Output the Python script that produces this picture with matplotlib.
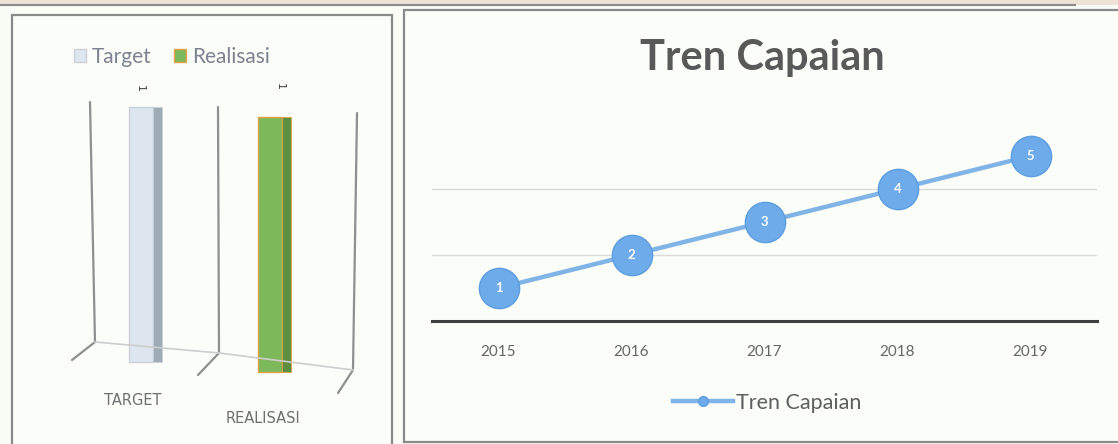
import matplotlib
matplotlib.use("Agg")
import matplotlib.pyplot as plt
from matplotlib.patches import Rectangle
from matplotlib.lines import Line2D

# ---- data -------------------------------------------------------------
bar_categories = ["Target", "Realisasi"]
bar_axis_labels = ["TARGET", "REALISASI"]
bar_values = [1, 1]

years = ["2015", "2016", "2017", "2018", "2019"]
tren_values = [1, 2, 3, 4, 5]

# ---- figure -----------------------------------------------------------
W, H = 1118, 444
fig = plt.figure(figsize=(W / 100, H / 100), dpi=100)
fig.patch.set_facecolor("#fafcf6")
plt.rcParams["font.family"] = ["Lato", "DejaVu Sans"]


def fx(x):
    return x / W


def fy(y):
    return 1 - y / H


def pline(xs, ys, **kw):
    fig.add_artist(Line2D([fx(x) for x in xs], [fy(y) for y in ys],
                          transform=fig.transFigure, **kw))


# page strip along the top edge
fig.add_artist(Rectangle((0, fy(5)), 1, 5 / H, transform=fig.transFigure,
                         facecolor="#efe3d6", edgecolor="none", zorder=0))
pline([0, 1075], [5.5, 5.5], color="#8c8c8c", lw=1.6, zorder=1)

# panel frames
fig.add_artist(Rectangle((fx(12), fy(450)), (392 - 12) / W, (450 - 15) / H,
                         transform=fig.transFigure, facecolor="#fbfdf9",
                         edgecolor="#8a8a8a", lw=1.6, zorder=0))
fig.add_artist(Rectangle((fx(404), fy(442)), (1130 - 404) / W, (442 - 10) / H,
                         transform=fig.transFigure, facecolor="#fbfdf9",
                         edgecolor="#8a8a8a", lw=1.6, zorder=0))

# ---- left panel: column chart with a 3-D look ---------------------------
ax1 = fig.add_axes([fx(40), fy(400), 340 / W, 320 / H])
ax1.set_xlim(-(141 - 40) / 129, (380 - 141) / 129)
ax1.set_ylim(-(400 - 362) / 255, 1 + (107 - 80) / 255)
ax1.axis("off")

# walls and floor drawn behind the columns
wall = dict(color="#8f8f8f", lw=1.6, zorder=1, solid_capstyle="round")
pline([90, 95, 72], [102, 342, 360], **wall)
pline([218, 219, 198], [107, 353, 375], **wall)
pline([357, 353, 338], [113, 370, 393], **wall)
pline([95, 219], [342, 353], color="#cdcdcd", lw=1.2, zorder=1)
pline([219, 353], [353, 370], color="#cdcdcd", lw=1.2, zorder=1)

front_w, side_w = 0.186, 0.07
depth_base = [0.0, -0.04]
front_colors = ["#dde6ee", "#7db85a"]
side_colors = ["#9eabb4", "#5e8f40"]
edge_colors = ["#c9d2da", "#e3a24a"]
value_label_offset = [(-0.01, 13), (0.078, 22)]
axis_label_offset = [(-8, -38), (-7, -56)]

for i, (name, val) in enumerate(zip(bar_categories, bar_values)):
    ax1.bar(i, val, width=front_w, bottom=depth_base[i], color=front_colors[i],
            edgecolor=edge_colors[i], lw=1.0, label=name, zorder=3)
    ax1.bar(i + front_w / 2 + side_w / 2, val, width=side_w, bottom=depth_base[i],
            color=side_colors[i], edgecolor=edge_colors[i], lw=0.6, zorder=3)
    dx, dy = value_label_offset[i]
    ax1.annotate(str(val), (i + dx, depth_base[i] + val),
                 xytext=(0, dy), textcoords="offset points", rotation=-90,
                 ha="center", va="center", fontsize=8, color="#404040",
                 family="DejaVu Sans")

for i, lab in enumerate(bar_axis_labels):
    ax1.annotate(lab, (i, 0), xytext=axis_label_offset[i],
                 textcoords="offset pixels", ha="center", va="center",
                 fontsize=10.5, color="#6f6f6f", family="DejaVu Sans")

ax1.legend(loc="center", bbox_to_anchor=(fx(172), fy(57)),
           bbox_transform=fig.transFigure, ncol=2, frameon=False,
           fontsize=15, labelcolor="#7c8290", handlelength=0.55,
           handleheight=0.55, handletextpad=0.3, columnspacing=1.1)

# ---- right panel: line chart --------------------------------------------
ax2 = fig.add_axes([fx(432), fy(321), 665 / W, 198 / H])
ax2.set_facecolor("none")
xpos = list(range(len(years)))
ax2.set_xlim(-0.5, len(years) - 0.5)
ax2.set_ylim(0, 6)
ax2.set_yticks([2, 4])
ax2.yaxis.grid(True, color="#dadada", lw=1.0)
ax2.tick_params(axis="y", length=0, labelleft=False)
ax2.set_xticks(xpos)
ax2.set_xticklabels(years)
ax2.tick_params(axis="x", length=0, pad=17, labelsize=11, labelcolor="#666666")
for s in ("left", "right", "top"):
    ax2.spines[s].set_visible(False)
ax2.spines["bottom"].set_color("#3f3f3f")
ax2.spines["bottom"].set_linewidth(2.2)

ax2.plot(xpos, tren_values, color="#80b4e6", lw=3.2, marker="o", ms=29,
         mfc="#6eabea", mec="#5c9de0", mew=1.0, zorder=3, clip_on=False)
for x, v in zip(xpos, tren_values):
    ax2.text(x, v, str(v), ha="center", va="center", color="white",
             fontsize=9.5, fontweight="bold", zorder=4)

fig.text(fx(762), fy(58), "Tren Capaian", ha="center", va="center",
         fontsize=30, fontweight="bold", color="#595959")

handle = Line2D([], [], color="#80b4e6", lw=3.2, marker="o", ms=7,
                mfc="#6eabea", mec="#5c9de0")
fig.legend([handle], ["Tren Capaian"], loc="center",
           bbox_to_anchor=(fx(767), fy(403)), frameon=False, fontsize=15.5,
           labelcolor="#5f5f5f", handlelength=2.8, handletextpad=0.15)

fig.savefig("out.png", dpi=100, facecolor=fig.get_facecolor())
